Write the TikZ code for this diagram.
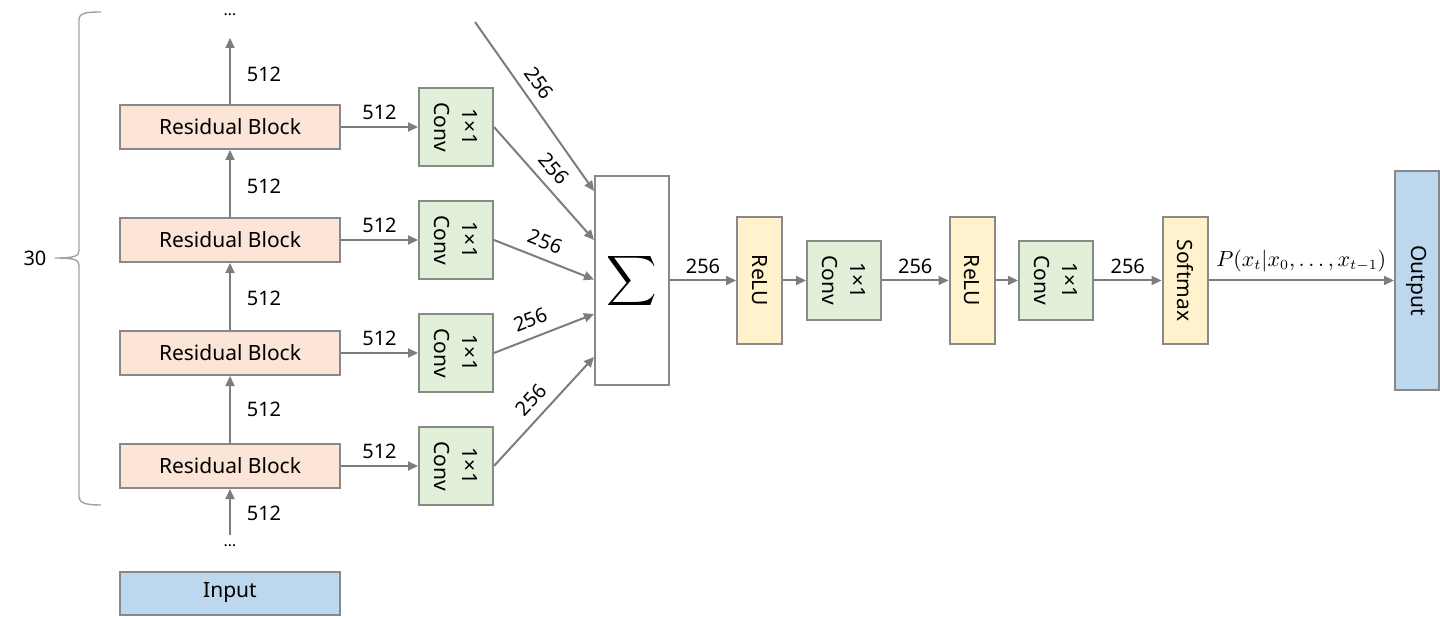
\documentclass[tikz,border=0pt]{standalone}
\usepackage[no-math]{fontspec}
\setmainfont{Noto Sans}
\usepackage{graphicx}
\usetikzlibrary{arrows.meta,calc}
\definecolor{bordergray}{RGB}{137,137,137}
\definecolor{arrowgray}{RGB}{125,125,125}
\definecolor{resfill}{HTML}{FCE4D6}
\definecolor{convfill}{HTML}{E2F0D9}
\definecolor{relufill}{HTML}{FFF2CC}
\definecolor{iofill}{HTML}{BDD7EE}
\tikzset{
  box/.style={draw=bordergray, line width=1pt, inner sep=0pt, font=\fontsize{10.5}{12}\selectfont},
  resblock/.style={box, fill=resfill, minimum width=110pt, minimum height=22pt},
  iobox/.style={box, fill=iofill},
  convbox/.style={box, fill=convfill, minimum width=37pt, minimum height=39pt},
  actbox/.style={box, fill=relufill, minimum width=22.5pt, minimum height=63.5pt},
  vtext/.style={rotate=-90, align=center, font=\fontsize{10.5}{14}\selectfont, inner sep=0pt},
  conn/.style={draw=arrowgray, line width=1pt, -{Triangle[length=5pt,width=4.5pt]}},
  lbl/.style={font=\fontsize{10}{11}\selectfont, inner sep=3pt},
  slbl/.style={lbl, above, sloped, inner sep=4.5pt},
  dots/.style={font=\fontsize{8}{9}\selectfont, inner sep=0pt}
}
\begin{document}
\begin{tikzpicture}[x=0.5pt,y=-0.5pt]
\useasboundingbox (0,0) rectangle (1440,620);

% residual stack
\node[dots] (dtop) at (230,15) {\dots};
\coordinate (ttop) at (230,38);
\node[resblock] (rb1) at (230,127) {Residual Block};
\node[resblock] (rb2) at (230,240) {Residual Block};
\node[resblock] (rb3) at (230,353) {Residual Block};
\node[resblock] (rb4) at (230,466) {Residual Block};
\coordinate (bbot) at (230,535);
\node[dots] (dbot) at (230,546) {\dots};
\node[iobox, minimum width=110pt, minimum height=21.5pt] (input) at (230,593) {Input};

\draw[conn] (rb1.north) -- (ttop);
\draw[conn] (rb2) -- (rb1);
\draw[conn] (rb3) -- (rb2);
\draw[conn] (rb4) -- (rb3);
\draw[conn] (bbot) -- (rb4.south);

\node[lbl] (l1) at (264,74) {512};
\node[lbl] (l2) at (264,186) {512};
\node[lbl] (l3) at (264,298) {512};
\node[lbl] (l4) at (264,409) {512};
\node[lbl] (l5) at (264,513) {512};

% brace
\draw[draw=bordergray!80, line width=0.7pt, line join=round]
  (101,12) .. controls (86,12) and (79,13) .. (79,20) -- (79,250)
  .. controls (79,256) and (76,258) .. (55,258)
  .. controls (76,258) and (79,260) .. (79,266) -- (79,497)
  .. controls (79,503) and (86,505) .. (101,505);
\node[font=\fontsize{10}{12}\selectfont] (n30) at (35,258) {30};

% 1x1 convs
\node[convbox] (c1) at (456,127) {};
\node[convbox] (c2) at (456,240) {};
\node[convbox] (c3) at (456,353) {};
\node[convbox] (c4) at (456,466) {};
\foreach \c in {c1,c2,c3,c4} {\node[vtext] at (\c) {1×1\\Conv};}

\draw[conn] (rb1) -- node[lbl, above] {512} (c1);
\draw[conn] (rb2) -- node[lbl, above] {512} (c2);
\draw[conn] (rb3) -- node[lbl, above] {512} (c3);
\draw[conn] (rb4) -- node[lbl, above] {512} (c4);

% sum
\node[box, fill=white, minimum width=37pt, minimum height=104.5pt] (sum) at (632,280.5) {\scalebox{1.75}{$\displaystyle\sum$}};
\coordinate (ctop) at (475,22);
\draw[conn] (ctop) -- node[slbl, pos=0.42] {256} ([yshift=44.75pt]sum.west);
\draw[conn] (c1.east) -- node[slbl, pos=0.47] {256} ([yshift=20.25pt]sum.west);
\draw[conn] (c2.east) -- node[slbl, pos=0.45] {256} ([yshift=0.5pt]sum.west);
\draw[conn] (c3.east) -- node[slbl, pos=0.43] {256} ([yshift=-16.75pt]sum.west);
\draw[conn] (c4.east) -- node[slbl, pos=0.5] {256} ([yshift=-38.25pt]sum.west);

% head
\node[actbox] (relu1) at (759.5,280.5) {};
\node[vtext] at (relu1) {ReLU};
\node[convbox] (c5) at (844,280.5) {};
\node[vtext] at (c5) {1×1\\Conv};
\node[actbox] (relu2) at (972,280.5) {};
\node[vtext] at (relu2) {ReLU};
\node[convbox] (c6) at (1056,280.5) {};
\node[vtext] at (c6) {1×1\\Conv};
\node[actbox] (soft) at (1185,280.5) {};
\node[vtext] at (soft) {Softmax};
\node[iobox, minimum width=22pt, minimum height=109.5pt] (out) at (1417,280.5) {};
\node[vtext] at (out) {Output};

\draw[conn] (sum) -- node[lbl, above] {256} (relu1);
\draw[conn] (relu1) -- (c5);
\draw[conn] (c5) -- node[lbl, above] {256} (relu2);
\draw[conn] (relu2) -- (c6);
\draw[conn] (c6) -- node[lbl, above] {256} (soft);
\draw[conn] (soft) -- node[above, inner sep=4pt, font=\fontsize{10.5}{12}\selectfont] {$P(x_t|x_0,\ldots,x_{t-1})$} (out);
\end{tikzpicture}
\end{document}
